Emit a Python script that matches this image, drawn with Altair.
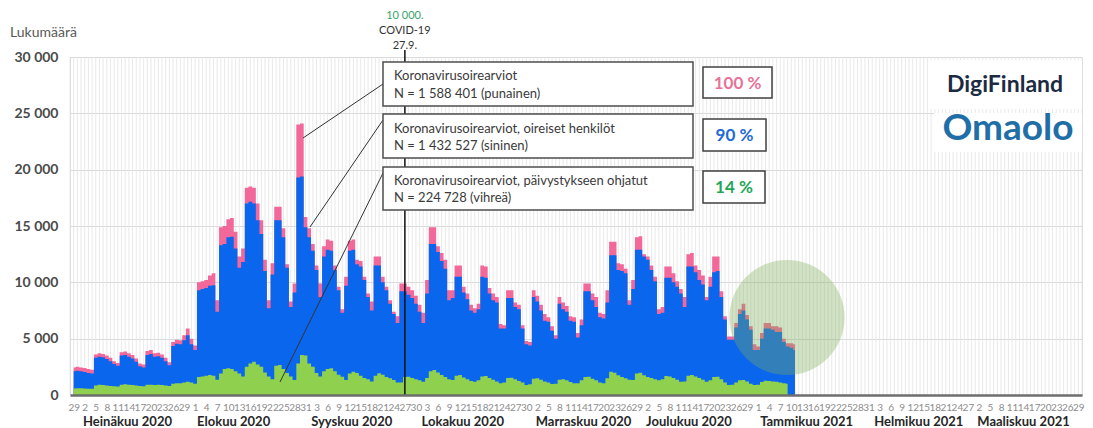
import altair as alt
import pandas as pd

# ---- data (daily values from 29.6.2020, day index 0) ----
TOTAL = [
    2450, 2500, 2450, 2400, 2300, 2250,
    3600, 3700, 3650, 3500, 3300, 3000, 2850,
    3800, 3850, 3700, 3550, 3250, 2800, 2700,
    3900, 4000, 3700, 3750, 3600, 3300, 2900,
    4700, 4900, 4850, 5300, 5900, 5000, 4400,
    10000, 10100, 10200, 10600, 10800, 8400, 14900,
    15000, 15600, 15700, 14500, 12300, 13000,
    18400, 18500, 18400, 17000, 15500, 12000, 8400,
    11700, 16700, 16700, 14800, 11600, 8300, 9900,
    24000, 24100, 15800, 14800, 13400, 11500, 9900,
    13200, 13800, 13700, 11500, 9600, 7600, 10500,
    13700, 13800, 12000, 11900, 10500, 9000, 8300,
    12300, 12300, 10500, 9600, 8400, 7400, 7000,
    9900, 9900, 9600, 9300, 8800, 8000, 7300,
    10200, 14900, 14900, 13200, 12600, 12000, 9300,
    9300, 11500, 11500, 9600, 9000, 8000, 7700,
    8100, 11500, 11400, 9500, 9000, 8700, 6300,
    6200, 9300, 9300, 8200, 8000, 6200, 4800,
    4700, 9300, 8800, 8000, 7200, 6900, 6100,
    5300, 8700, 8200, 7900, 7000, 6900, 5500,
    6700, 9900, 9900, 9000, 8700, 7300, 7200,
    9300, 13600, 13600, 11700, 11600, 11200, 8400,
    10200, 14000, 14100, 12500, 12300, 11500, 10500,
    7600, 7800, 11400, 11400, 10800, 10100, 9400,
    8700, 12500, 12600, 11500, 11100, 10600, 8700,
    10500, 12300, 12300, 9200, 7000, 5200, 5200,
    6400, 7600, 8100, 7100, 6100, 4500, 4300,
    5500, 6400, 6400, 6100, 6100, 6000, 5000,
    4600, 4600, 4500,
]
SYMPTOMATIC = [
    2100, 2150, 2100, 2050, 1950, 1900,
    3300, 3400, 3350, 3200, 3000, 2750, 2600,
    3500, 3550, 3400, 3250, 2950, 2550, 2450,
    3550, 3650, 3400, 3450, 3300, 3000, 2650,
    4350, 4550, 4500, 4850, 5300, 4500, 4000,
    9300, 9400, 9500, 9700, 9750, 7400, 13300,
    13400, 14000, 14050, 13000, 11300, 11800,
    17000, 17150, 17000, 15500, 14300, 11000, 7700,
    10700, 15500, 15500, 14000, 11300, 7800, 9100,
    19300, 19400, 14900, 14000, 12800, 11100, 8700,
    12300, 12900, 12800, 11100, 9300, 7300, 9700,
    12800, 12900, 11600, 11400, 10200, 8700, 7500,
    11500, 11500, 10000, 9300, 8100, 7200, 6400,
    9200, 9200, 8900, 8600, 8100, 7400, 6400,
    9000, 13400, 13400, 12700, 11900, 11200, 8400,
    8600, 10500, 10500, 9100, 8500, 7500, 7300,
    7600, 10500, 10400, 9000, 8400, 8200, 5900,
    5900, 8600, 8600, 7800, 7600, 5900, 4500,
    4400, 8700, 8300, 7500, 6600, 6500, 5700,
    5000, 8100, 7600, 7400, 6600, 6500, 5100,
    6200, 9200, 9200, 8400, 7800, 6900, 6800,
    8200, 12400, 12400, 11100, 11000, 10800, 8000,
    9400, 12900, 12900, 12300, 12000, 11100, 10100,
    7200, 7300, 10400, 10400, 10000, 9600, 9000,
    7800, 11400, 11400, 10900, 10200, 9800, 8400,
    9600, 10900, 11000, 8700, 6700, 4900, 4900,
    6000, 7200, 7500, 6700, 5800, 4000, 4000,
    5000, 5900, 5900, 5800, 5600, 5600, 4700,
    4300, 4200, 4000,
]
EMERGENCY = [
    580, 600, 600, 580, 560, 560,
    850, 900, 880, 850, 800, 770, 750,
    920, 950, 920, 880, 840, 790, 770,
    900, 920, 880, 900, 880, 850, 800,
    1000, 1050, 1040, 1100, 1180, 1100, 1000,
    1600, 1650, 1700, 1780, 1700, 1350, 1900,
    2300, 2370, 2300, 2100, 1900, 1650,
    2500, 2800, 2960, 2700, 2500, 2000, 1650,
    1400, 2600, 2660, 2300, 1950, 1650, 1330,
    2800, 3550, 3500, 2800, 2500, 1950, 1650,
    2100, 2300, 2370, 2100, 1800, 1630, 1330,
    1900, 2070, 1950, 1700, 1500, 1400, 1200,
    1700, 1920, 1800, 1600, 1480, 1330, 1100,
    1100, 1600, 1630, 1500, 1400, 1300, 1180,
    1500, 2100, 2220, 2000, 1780, 1600, 1400,
    1330, 1700, 1780, 1550, 1400, 1250, 1180,
    1300, 1650, 1690, 1500, 1350, 1200, 1040,
    1100, 1500, 1540, 1400, 1250, 1100, 890,
    950, 1450, 1480, 1350, 1200, 1100, 980,
    1000, 1350, 1390, 1300, 1150, 1050, 1040,
    1300, 1600, 1630, 1450, 1300, 1100, 1040,
    1480, 2070, 1980, 1750, 1600, 1480, 1350,
    1330, 1900, 1980, 1750, 1600, 1500, 1390,
    1300, 1400, 1690, 1650, 1500, 1350, 1180,
    1200, 1700, 1780, 1650, 1500, 1350, 1180,
    1300, 1600, 1630, 1400, 1100, 890, 900,
    1100, 1300, 1330, 1200, 1000, 890, 900,
    1150, 1270, 1250, 1200, 1180, 1100, 1040,
    1000,
]
TICK_LABELS = [
    "29", "2", "5", "8", "11", "14", "17", "20", "23", "26", "29",
    "1", "4", "7", "10", "13", "16", "19", "22", "25", "28", "31",
    "3", "6", "9", "12", "15", "18", "21", "24", "27", "30",
    "3", "6", "9", "12", "15", "18", "21", "24", "27", "30",
    "2", "5", "8", "11", "14", "17", "20", "23", "26", "29",
    "2", "5", "8", "11", "14", "17", "20", "23", "26", "29",
    "1", "4", "7", "10", "13", "16", "19", "22", "25", "28", "31",
    "3", "6", "9", "12", "15", "18", "21", "24", "27",
    "2", "5", "8", "11", "14", "17", "20", "23", "26", "29",
]
MONTHS = ["Heinäkuu 2020", "Elokuu 2020", "Syyskuu 2020", "Lokakuu 2020",
          "Marraskuu 2020", "Joulukuu 2020", "Tammikuu 2021", "Helmikuu 2021",
          "Maaliskuu 2021"]
MONTH_START_DAY = [2, 33, 64, 94, 125, 155, 186, 217, 245]
COVID_DAY = [90]
Y_TICKS = [0, 5000, 10000, 15000, 20000, 25000, 30000]
X_DOMAIN = [-1, 274]

# ---- styling ----
W, H = 1012, 338
PINK, BLUE, GREEN = "#f2689a", "#0b66ee", "#8fd04e"
FONT = "Lato"

df_main = pd.DataFrame({"day": list(range(len(TOTAL))), "total": TOTAL, "sym": SYMPTOMATIC})
df_em = pd.DataFrame({"day": list(range(len(EMERGENCY))), "em": EMERGENCY})
df_grid = pd.DataFrame({"day": list(range(X_DOMAIN[0], X_DOMAIN[1] + 1))})
df_months = pd.DataFrame({"day": MONTH_START_DAY, "name": MONTHS})
df_covid = pd.DataFrame({"day": COVID_DAY})
ONE = pd.DataFrame({"k": [0]})

xscale = alt.Scale(domain=X_DOMAIN, nice=False, zero=False)
yscale = alt.Scale(domain=[0, 30000], nice=False)
label_js = "[" + ",".join("'%s'" % s for s in TICK_LABELS) + "][round(datum.value/3)]"

X_AXIS = alt.Axis(
    values=list(range(0, 274, 3)), labelExpr=label_js, title=None, grid=False,
    ticks=False, domain=True, domainColor="#6e6e6e", domainWidth=2.5, zindex=1,
    labelColor="#8c8c8c", labelFont=FONT, labelFontSize=10, labelPadding=7,
    labelOverlap=False, labelBound=False, labelFlush=False)
Y_AXIS = alt.Axis(
    values=Y_TICKS, labelExpr="replace(format(datum.value, ','), ',', ' ')",
    title=None, grid=True, gridColor="#d9d9d9", gridWidth=1, ticks=False,
    domain=False, labelFont=FONT, labelFontSize=14, labelFontWeight="bold",
    labelColor="#4a4a4a", labelPadding=12)


def xenc():
    return alt.X("day:Q", scale=xscale, axis=X_AXIS, title=None)


def yenc(field):
    return alt.Y(field, type="quantitative", scale=yscale, axis=Y_AXIS, title=None)


grid = alt.Chart(df_grid).mark_rule(color="#e3e3e3", strokeWidth=0.8).encode(x=xenc())

pink_area = alt.Chart(df_main).mark_area(interpolate="step", color=PINK).encode(
    x=xenc(), y=yenc("total"))
blue_area = alt.Chart(df_main).mark_area(interpolate="step", color=BLUE).encode(
    x=xenc(), y=yenc("sym"))
green_area = alt.Chart(df_em).mark_area(interpolate="step", color=GREEN).encode(
    x=xenc(), y=yenc("em"))

circle = alt.Chart(ONE).mark_circle(color="#7fae5a", opacity=0.35, size=13273).encode(
    x=alt.value(717), y=alt.value(260.5))

covid_line = alt.Chart(df_covid).mark_rule(color="#111111", strokeWidth=1.5).encode(
    x=xenc(), y=alt.value(-7), y2=alt.value(H))


def covid_text(s, y, color):
    return alt.Chart(df_covid).mark_text(font=FONT, fontSize=11, color=color).encode(
        x=xenc(), y=alt.value(y), text=alt.value(s))


def rect(x, x2, y, y2, stroke="#4d4d4d", sw=1.5, fill="white"):
    return alt.Chart(ONE).mark_rect(fill=fill, stroke=stroke, strokeWidth=sw).encode(
        x=alt.value(x), x2=alt.value(x2), y=alt.value(y), y2=alt.value(y2))


def rect_plain(x, x2, y, y2):
    return alt.Chart(ONE).mark_rect(fill="white", strokeWidth=0).encode(
        x=alt.value(x), x2=alt.value(x2), y=alt.value(y), y2=alt.value(y2))


def text(x, y, s, **kw):
    return alt.Chart(ONE).mark_text(**kw).encode(
        x=alt.value(x), y=alt.value(y), text=alt.value(s))


def line(x, y, x2, y2):
    return alt.Chart(ONE).mark_rule(color="#333333", strokeWidth=1).encode(
        x=alt.value(x), y=alt.value(y), x2=alt.value(x2), y2=alt.value(y2))


box_kw = dict(font=FONT, fontSize=13, color="#3a3a3a", align="left", baseline="middle")
pct_kw = dict(font=FONT, fontSize=17, fontWeight="bold", align="center", baseline="middle")

annotations = [
    line(313, 27, 233, 81), line(313, 63, 240, 170), line(313, 116, 210, 325),
    rect(313, 623, 5, 49), rect(313, 623, 57, 101), rect(313, 623, 110, 153),
    text(324, 19, "Koronavirusoirearviot", **box_kw),
    text(324, 36.5, "N = 1 588 401 (punainen)", **box_kw),
    text(324, 72, "Koronavirusoirearviot, oireiset henkilöt", **box_kw),
    text(324, 89, "N = 1 432 527 (sininen)", **box_kw),
    text(324, 123.5, "Koronavirusoirearviot, päivystykseen ohjatut", **box_kw),
    text(324, 140.5, "N = 224 728 (vihreä)", **box_kw),
    rect(633, 702, 10, 41, stroke="#404040"), rect(633, 696, 62, 94, stroke="#404040"),
    rect(633, 695, 114, 146, stroke="#404040"),
    text(667.5, 26.5, "100 %", color="#e8739a", **pct_kw),
    text(664.5, 78.5, "90 %", color="#1f6ad6", **pct_kw),
    text(664, 130.5, "14 %", color="#24a659", **pct_kw),
    rect_plain(858, 1012, 3, 52), rect_plain(864, 1012, 56, 95),
    text(935, 28, "DigiFinland", font=FONT, fontSize=23, fontWeight="bold",
         color="#1c2a42", align="center", baseline="middle"),
    text(938, 72, "Omaolo", font=FONT, fontSize=37, fontWeight="bold", color="#1f6ea8",
         align="center", baseline="middle"),
    text(-60, -24, "Lukumäärä", font=FONT, fontSize=14, color="#595959",
         align="left", baseline="middle"),
]

month_labels = alt.Chart(df_months).mark_text(
    align="left", baseline="alphabetic", font=FONT, fontSize=13, fontWeight="bold",
    color="#262626", dx=2).encode(x=xenc(), y=alt.value(369), text="name:N")

chart = alt.layer(
    grid, pink_area, blue_area, green_area, circle, covid_line,
    covid_text("10 000.", -41, "#3aa56a"), covid_text("COVID-19", -26, "#333333"),
    covid_text("27.9.", -11, "#333333"),
    *annotations, month_labels,
).properties(
    width=W, height=H,
    autosize=alt.AutoSizeParams(type="none"),
    padding={"left": 62, "top": 49, "right": 3, "bottom": 34},
).configure_view(stroke=None).configure(background="white")

chart.save("out.html", embed_options={"renderer": "svg", "actions": False})
